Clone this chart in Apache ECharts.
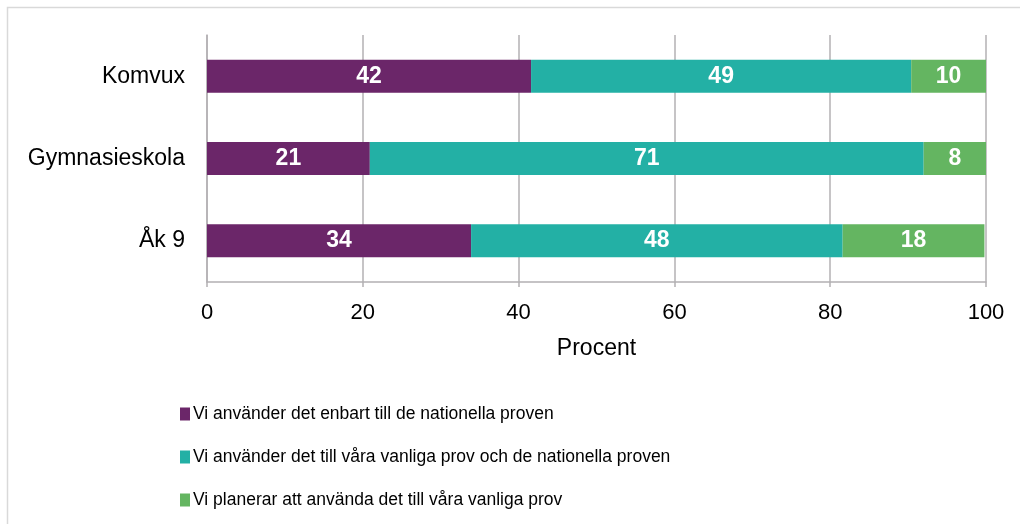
<!DOCTYPE html>
<html>
<head>
<meta charset="utf-8">
<script src="https://cdn.jsdelivr.net/npm/echarts@6/dist/echarts.min.js"></script>
<style>
  html, body { margin: 0; padding: 0; background: #fff; }
  #chart { width: 1020px; height: 524px; }
</style>
</head>
<body>
<div id="chart"></div>
<script>
// kategorier nedifrån och upp (y-axeln i echarts börjar längst ner)
var categories = ['Åk 9', 'Gymnasieskola', 'Komvux'];
var seriesNames = [
    'Vi använder det enbart till de nationella proven',
    'Vi använder det till våra vanliga prov och de nationella proven',
    'Vi planerar att använda det till våra vanliga prov'
];
var enbartNationella = [33.9, 20.9, 41.6];
var vanligaOchNationella = [47.7, 71.1, 48.8];
var planerar = [18.2, 8.0, 9.6];
var xTicks = [0, 20, 40, 60, 80, 100];

var colors = ['#6b2669', '#23b0a5', '#64b561'];
var font = "'Liberation Sans', Arial, sans-serif";

function makeSeries(name, values, color) {
    return {
        name: name,
        type: 'bar',
        stack: 'total',
        barWidth: '40%',
        data: values,
        itemStyle: { color: color },
        label: {
            show: true,
            color: '#fff',
            fontFamily: font,
            fontWeight: 'bold',
            fontSize: 23,
            formatter: function (p) { return Math.round(p.value); }
        },
        emphasis: { disabled: true }
    };
}

var chart = echarts.init(document.getElementById('chart'));
chart.setOption({
    animation: false,
    textStyle: { fontFamily: font },
    graphic: [{
        type: 'rect',
        shape: { x: 7.5, y: 7.5, width: 1100, height: 600 },
        style: { fill: 'none', stroke: '#d9d9d9', lineWidth: 1.5 },
        silent: true
    }],
    grid: { left: 207, right: 34, top: 35, height: 247 },
    xAxis: {
        type: 'value',
        min: 0,
        max: 100,
        interval: 20,
        name: 'Procent',
        nameLocation: 'middle',
        nameGap: 55,
        nameTextStyle: { color: '#000', fontSize: 23, fontFamily: font },
        axisLine: { show: true, lineStyle: { color: '#b3b0b3', width: 1.5 } },
        axisTick: { show: true, length: 5, lineStyle: { color: '#b3b0b3', width: 1.5 } },
        axisLabel: {
            color: '#000', fontSize: 22, margin: 20, fontFamily: font,
            formatter: function (v) { return xTicks.indexOf(v) >= 0 ? String(v) : ''; }
        },
        splitLine: { show: true, lineStyle: { color: '#b3b0b3', width: 1.5 } }
    },
    yAxis: {
        type: 'category',
        data: categories,
        axisLine: { show: true, lineStyle: { color: '#b3b0b3', width: 1.5 } },
        axisTick: { show: false },
        axisLabel: { color: '#000', fontSize: 23, margin: 22, fontFamily: font }
    },
    legend: {
        orient: 'vertical',
        left: 175,
        top: 400,
        itemGap: 25,
        itemWidth: 10,
        itemHeight: 13,
        icon: 'rect',
        textStyle: {
            color: '#000', fontSize: 17.5, padding: [0, 0, 0, -2],
            fontFamily: font
        },
        data: seriesNames
    },
    series: [
        makeSeries(seriesNames[0], enbartNationella, colors[0]),
        makeSeries(seriesNames[1], vanligaOchNationella, colors[1]),
        makeSeries(seriesNames[2], planerar, colors[2])
    ]
});
</script>
</body>
</html>
